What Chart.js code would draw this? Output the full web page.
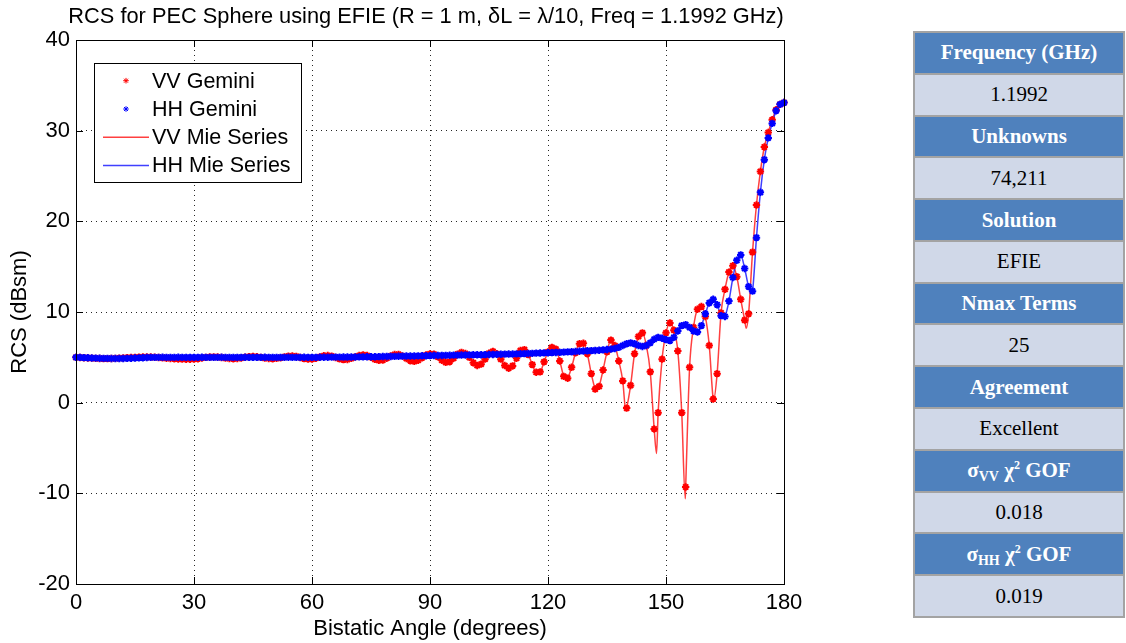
<!DOCTYPE html>
<html>
<head>
<meta charset="utf-8">
<script src="https://cdn.jsdelivr.net/npm/chart.js@4.4.1/dist/chart.umd.min.js"></script>
<style>
  html, body { margin: 0; padding: 0; background: #fff; }
  #plot { position: absolute; left: 0; top: 0; }
  #info {
    position: absolute; left: 913px; top: 31px; width: 212px; height: 587px;
    box-sizing: border-box; background: #a3a3a3; padding: 2px;
    display: grid; grid-template-rows: repeat(14, 1fr); row-gap: 2px;
    font-family: "Liberation Serif", "Times New Roman", serif; font-size: 21px;
  }
  #info > div { display: flex; align-items: center; justify-content: center; }
  #info .head { background: #4f81bd; color: #fff; font-weight: bold; }
  #info .val { background: #d0d8e8; color: #000; }
  #info sub { font-size: 14px; vertical-align: -4px; line-height: 0; }
  #info sup { font-size: 12px; vertical-align: 8px; line-height: 0; }
</style>
</head>
<body>
<canvas id="plot" width="900" height="643"></canvas>
<div id="info"></div>
<script>
// Bistatic RCS of a 1 m PEC sphere, sampled every degree from 0 to 180.
const angleStep = 1;

const vvGemini = [
  5.00, 4.98, 4.96, 4.93, 4.91, 4.89, 4.87, 4.86, 4.86, 4.87,
  4.89, 4.91, 4.93, 4.96, 4.98, 5.00, 5.02, 5.03, 5.04, 5.03,
  5.01, 4.98, 4.94, 4.90, 4.87, 4.85, 4.82, 4.80, 4.79, 4.79,
  4.80, 4.85, 4.93, 5.00, 5.04, 5.05, 5.03, 4.98, 4.92, 4.87,
  4.85, 4.87, 4.93, 5.02, 5.08, 5.10, 5.07, 5.00, 4.92, 4.87,
  4.85, 4.88, 4.95, 5.05, 5.13, 5.15, 5.10, 4.98, 4.86, 4.80,
  4.81, 4.90, 5.05, 5.17, 5.20, 5.13, 4.98, 4.83, 4.75, 4.76,
  4.88, 5.05, 5.20, 5.27, 5.20, 5.00, 4.78, 4.67, 4.70, 4.90,
  5.15, 5.31, 5.32, 5.15, 4.87, 4.63, 4.56, 4.68, 4.95, 5.25,
  5.38, 5.35, 5.05, 4.68, 4.45, 4.52, 4.90, 5.35, 5.55, 5.42,
  5.00, 4.40, 4.10, 4.25, 4.80, 5.45, 5.65, 5.40, 4.80, 4.10,
  3.80, 4.05, 4.90, 5.75, 5.85, 5.30, 4.20, 3.35, 3.40, 4.50,
  5.60, 6.10, 5.90, 4.60, 2.90, 2.70, 3.90, 5.50, 6.50, 6.55,
  5.40, 3.20, 1.50, 1.80, 3.60, 5.60, 6.90, 6.30, 4.60, 2.40,
  -0.60, 1.90, 5.40, 7.30, 7.70, 6.30, 3.40, -2.90, -1.10, 4.80,
  7.70, 8.80, 8.00, 5.70, -1.10, -9.30, 3.90, 8.30, 10.30, 10.60,
  9.50, 6.30, 0.40, 3.20, 9.90, 12.50, 14.40, 15.10, 13.90, 11.40,
  9.10, 9.80, 16.60, 21.80, 25.50, 28.20, 29.80, 31.20, 32.30, 32.90,
  33.10
];

const hhGemini = [
  5.00, 4.99, 4.97, 4.95, 4.93, 4.91, 4.90, 4.89, 4.88, 4.87,
  4.87, 4.87, 4.87, 4.88, 4.90, 4.92, 4.94, 4.96, 4.98, 4.99,
  5.00, 5.00, 5.01, 5.00, 5.00, 5.00, 5.01, 5.00, 5.00, 5.00,
  5.00, 5.00, 5.01, 5.00, 5.00, 5.00, 5.00, 5.01, 5.00, 5.00,
  5.00, 5.00, 5.00, 5.01, 5.00, 5.00, 5.00, 5.00, 5.01, 5.00,
  5.00, 5.00, 5.00, 5.00, 5.01, 5.00, 5.00, 5.00, 5.01, 5.00,
  5.00, 5.00, 5.01, 5.01, 5.01, 5.02, 5.02, 5.02, 5.03, 5.03,
  5.04, 5.04, 5.05, 5.05, 5.06, 5.07, 5.07, 5.08, 5.09, 5.10,
  5.10, 5.11, 5.12, 5.13, 5.14, 5.15, 5.15, 5.16, 5.17, 5.18,
  5.19, 5.20, 5.20, 5.21, 5.22, 5.23, 5.24, 5.24, 5.25, 5.26,
  5.27, 5.28, 5.28, 5.29, 5.30, 5.31, 5.32, 5.33, 5.34, 5.35,
  5.36, 5.37, 5.38, 5.40, 5.41, 5.43, 5.44, 5.46, 5.47, 5.49,
  5.50, 5.52, 5.54, 5.55, 5.57, 5.60, 5.62, 5.64, 5.67, 5.70,
  5.72, 5.74, 5.76, 5.78, 5.82, 5.86, 5.90, 5.98, 6.10, 6.30,
  6.50, 6.60, 6.50, 6.30, 6.20, 6.30, 6.60, 7.00, 7.20, 7.10,
  6.95, 6.85, 7.20, 7.90, 8.50, 8.60, 8.30, 7.90, 7.80, 8.50,
  9.80, 11.00, 11.40, 10.80, 9.60, 9.50, 11.20, 13.80, 15.70, 16.30,
  14.80, 12.80, 12.30, 18.20, 23.20, 26.80, 29.20, 30.80, 32.20, 32.90,
  33.10
];

// Mie series curve: follows the per-degree samples and reaches its sharper
// nulls between them.
const vvMieNulls = [
  [124.7, 2.6], [132.4, 1.3], [139.8, -0.9], [147.6, -5.6],
  [154.9, -10.6], [162.1, 0.3], [170.4, 8.2]
];
const hhMieNulls = [
  [164.5, 9.3], [171.8, 12.1]
];

const xTicks = [0, 30, 60, 90, 120, 150, 180];
const yTicks = [-20, -10, 0, 10, 20, 30, 40];

const titleText = 'RCS for PEC Sphere using EFIE (R = 1 m, \u03B4L = \u03BB/10, Freq = 1.1992 GHz)';
const xTitle = 'Bistatic Angle (degrees)';
const yTitle = 'RCS (dBsm)';
const legendNames = ['VV Gemini', 'HH Gemini', 'VV Mie Series', 'HH Mie Series'];

const tableHeads = [
  'Frequency (GHz)', 'Unknowns', 'Solution', 'Nmax Terms', 'Agreement',
  '\u03C3<sub>VV</sub> \u03C7<sup>2</sup> GOF', '\u03C3<sub>HH</sub> \u03C7<sup>2</sup> GOF'
];
const tableValues = ['1.1992', '74,211', 'EFIE', '25', 'Excellent', '0.018', '0.019'];

// ---- summary table ----
const info = document.getElementById('info');
tableHeads.forEach((h, i) => {
  const a = document.createElement('div'); a.className = 'head';
  const s = document.createElement('span'); s.innerHTML = h; a.appendChild(s);
  info.appendChild(a);
  const b = document.createElement('div'); b.className = 'val';
  b.textContent = tableValues[i]; info.appendChild(b);
});

// ---- chart ----
const FONT = '"Liberation Sans", Arial, Helvetica, sans-serif';
const RED = '#ff0000', BLUE = '#0000ff';
const RED_LINE = 'rgba(255,30,30,0.85)', BLUE_LINE = 'rgba(30,30,255,0.85)';

const toPoints = vals => vals.map((v, i) => ({ x: i * angleStep, y: v }));
const withNulls = (vals, nulls) =>
  toPoints(vals).concat(nulls.map(([x, y]) => ({ x, y }))).sort((a, b) => a.x - b.x);

const markerStyle = { pointStyle: 'star', pointRadius: 3.7, pointBorderWidth: 2, pointHoverRadius: 3.7 };

const frame = {
  id: 'frame',
  afterDraw(chart) {
    const { ctx, chartArea: a, scales } = chart;
    ctx.save();
    // axes box
    ctx.strokeStyle = '#000'; ctx.lineWidth = 1; ctx.setLineDash([]);
    ctx.strokeRect(Math.round(a.left) + 0.5, Math.round(a.top) + 0.5,
                   Math.round(a.right - a.left), Math.round(a.bottom - a.top));
    // inward tick marks on all four sides
    const tl = 7;
    ctx.beginPath();
    xTicks.forEach(v => {
      const x = Math.round(scales.x.getPixelForValue(v)) + 0.5;
      ctx.moveTo(x, a.bottom); ctx.lineTo(x, a.bottom - tl);
      ctx.moveTo(x, a.top); ctx.lineTo(x, a.top + tl);
    });
    yTicks.forEach(v => {
      const y = Math.round(scales.y.getPixelForValue(v)) + 0.5;
      ctx.moveTo(a.left, y); ctx.lineTo(a.left + tl, y);
      ctx.moveTo(a.right, y); ctx.lineTo(a.right - tl, y);
    });
    ctx.stroke();
    // title
    ctx.fillStyle = '#000';
    ctx.font = '21.8px ' + FONT;
    ctx.textAlign = 'center'; ctx.textBaseline = 'middle';
    ctx.fillText(titleText, (a.left + a.right) / 2 - 4, 17);
    // legend box
    const lx = 94, ly = 63, lw = 207, lh = 119;
    ctx.fillStyle = '#fff';
    ctx.fillRect(lx, ly, lw, lh);
    ctx.strokeRect(lx + 0.5, ly + 0.5, lw, lh);
    const rows = [80.7, 109, 137.3, 165.5];
    const sets = chart.data.datasets;
    rows.forEach((ry, i) => {
      const ds = sets[i];
      ctx.strokeStyle = ds.borderColor; ctx.fillStyle = ds.borderColor;
      if (i < 2) {
        Chart.helpers.drawPoint(ctx, { pointStyle: 'star', radius: 2.8, borderWidth: 1.6 }, 126, ry);
      } else {
        ctx.lineWidth = 1.5;
        ctx.beginPath(); ctx.moveTo(103, ry); ctx.lineTo(149, ry); ctx.stroke();
      }
      ctx.fillStyle = '#000';
      ctx.font = '21.5px ' + FONT;
      ctx.textAlign = 'left'; ctx.textBaseline = 'middle';
      ctx.fillText(legendNames[i], 152, ry + 1);
    });
    ctx.restore();
  }
};

new Chart(document.getElementById('plot'), {
  type: 'line',
  data: {
    datasets: [
      { label: legendNames[0], data: toPoints(vvGemini), showLine: false,
        borderColor: RED, backgroundColor: RED, ...markerStyle, order: 2, clip: false },
      { label: legendNames[1], data: toPoints(hhGemini), showLine: false,
        borderColor: BLUE, backgroundColor: BLUE, ...markerStyle, order: 1, clip: false },
      { label: legendNames[2], data: withNulls(vvGemini, vvMieNulls), borderColor: RED_LINE,
        borderWidth: 1.5, pointRadius: 0, cubicInterpolationMode: 'monotone', order: 4 },
      { label: legendNames[3], data: withNulls(hhGemini, hhMieNulls), borderColor: BLUE_LINE,
        borderWidth: 1.5, pointRadius: 0, cubicInterpolationMode: 'monotone', order: 3 }
    ]
  },
  options: {
    responsive: false,
    animation: false,
    events: [],
    layout: { padding: { top: 40, right: 116, left: 0, bottom: 0 } },
    plugins: { legend: { display: false }, title: { display: false }, tooltip: { enabled: false } },
    scales: {
      x: {
        type: 'linear', min: 0, max: 180,
        afterBuildTicks: s => { s.ticks = xTicks.map(v => ({ value: v })); },
        afterFit: s => { s.height = 59; },
        ticks: { color: '#000', font: { family: FONT, size: 22 }, padding: 6, maxRotation: 0 },
        grid: { color: 'rgba(0,0,0,0.85)', lineWidth: 1, drawTicks: false },
        border: { display: false, dash: [1, 4] },
        title: { display: true, text: xTitle, color: '#000', font: { family: FONT, size: 22 },
                 padding: { top: 0, bottom: 1 } }
      },
      y: {
        type: 'linear', min: -20, max: 40,
        afterBuildTicks: s => { s.ticks = yTicks.map(v => ({ value: v })); },
        afterFit: s => { s.width = 76; },
        ticks: { color: '#000', font: { family: FONT, size: 22 }, padding: 6 },
        grid: { color: 'rgba(0,0,0,0.85)', lineWidth: 1, drawTicks: false },
        border: { display: false, dash: [1, 4] },
        title: { display: true, text: yTitle, color: '#000', font: { family: FONT, size: 22 },
                 padding: { top: 7, bottom: 0 } }
      }
    }
  },
  plugins: [frame]
});
</script>
</body>
</html>
